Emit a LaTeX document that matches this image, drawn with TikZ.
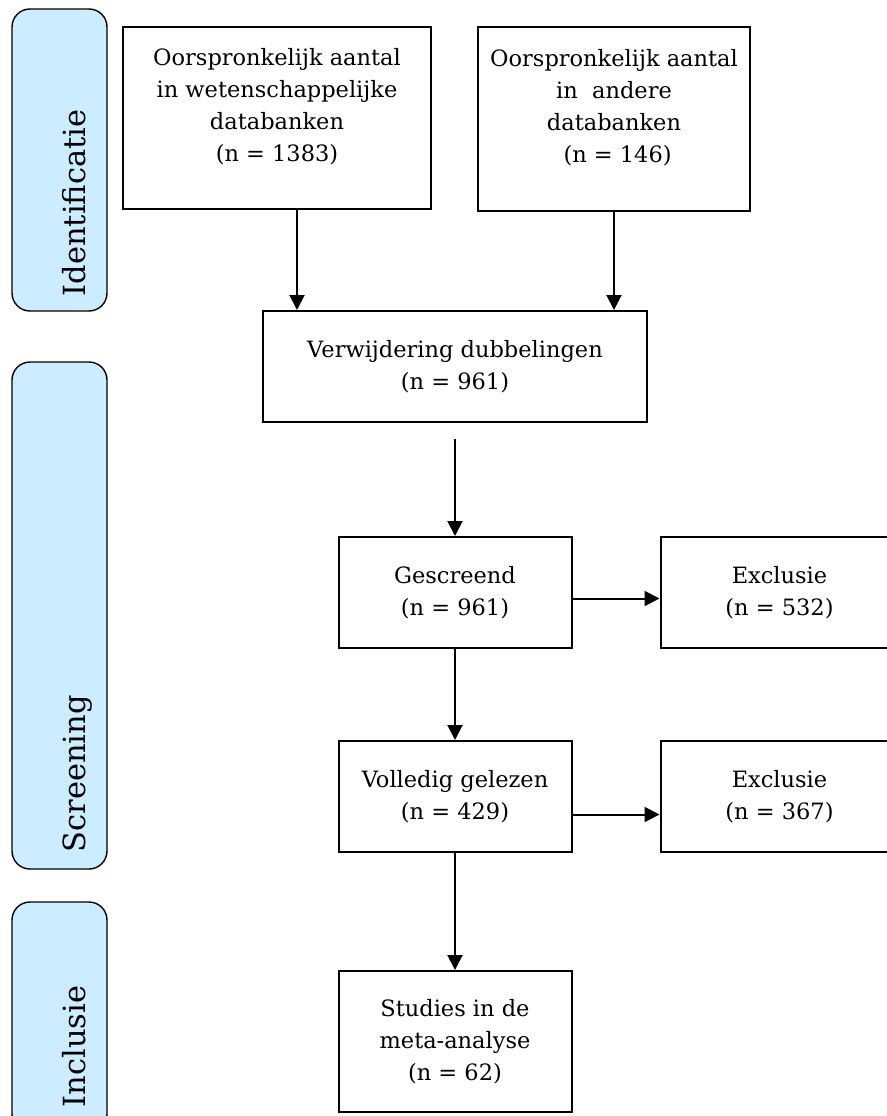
\documentclass[tikz,border=0pt]{standalone}
\usepackage{fontspec}
\setmainfont{DejaVu Serif}
\usepackage{tikz}
\usetikzlibrary{arrows.meta,positioning}
\definecolor{phaseblue}{RGB}{204,236,255}

\begin{document}
\begin{tikzpicture}[x=1pt, y=1pt, node distance=87pt and 87pt, box/.style={draw, line width=2pt, align=center, inner sep=0pt, font=\fontsize{22.5}{32}\selectfont}, phase/.style={draw, line width=1.4pt, rounded corners=18pt, fill=phaseblue, minimum width=95pt}, phaselabel/.style={rotate=90, anchor=base west, inner sep=0pt, font=\fontsize{30.5}{36}\selectfont}, arr/.style={-{Triangle[length=15pt,width=15pt]}, line width=2pt}]
\useasboundingbox (0,0) rectangle (886,-1116);
% phases on the left
\node[phase, minimum height=302pt] (ident) at (59.5,-160) {};
\node[phase, minimum height=507pt] (screen) at (59.5,-615.5) {};
\node[phase, minimum height=230pt] (incl) at (59.5,-1017) {};
\node[phaselabel] (identlbl) at ([xshift=25.5pt,yshift=15pt]ident.south) {Identificatie};
\node[phaselabel] (screenlbl) at ([xshift=25.5pt,yshift=17pt]screen.south) {Screening};
\node[phaselabel] (incllbl) at ([xshift=25.5pt,yshift=25pt]incl.south) {Inclusie};
% flow
\node[box, minimum width=308pt, minimum height=182pt] (orig1) at (277,-118) {Oorspronkelijk aantal\\in wetenschappelijke\\databanken\\(n = 1383)\\[-5pt]};
\node[box, minimum width=272pt, minimum height=184pt] (orig2) at (614,-119) {Oorspronkelijk aantal\\in~~andere\\databanken\\~(n = 146)\\[-5pt]};
\node[box, minimum width=384pt, minimum height=111pt] (dubbel) at (455,-366.5) {Verwijdering dubbelingen\\(n = 961)};
\node[box, minimum width=233pt, minimum height=111pt] (gescr) at (455,-592.5) {Gescreend\\(n = 961)};
\node[box, minimum width=238pt, minimum height=111pt, right=of gescr] (excl1) {Exclusie\\(n = 532)};
\node[box, minimum width=233pt, minimum height=111pt, below=91pt of gescr] (gelezen) {Volledig gelezen\\(n = 429)};
\node[box, minimum width=238pt, minimum height=111pt, right=of gelezen] (excl2) {Exclusie\\(n = 367)};
\node[box, minimum width=233pt, minimum height=141pt, below=117pt of gelezen] (studies) {Studies in de\\meta-analyse\\(n = 62)};
\draw[arr] ([xshift=20pt]orig1.south) -- ([xshift=20pt]orig1.south |- dubbel.north);
\draw[arr] (orig2.south) -- (orig2.south |- dubbel.north);
\draw[arr, shorten <=16pt] (dubbel.south) -- (gescr.north);
\draw[arr] ([yshift=-6pt]gescr.east) -- ([yshift=-6pt]gescr.east -| excl1.west);
\draw[arr] (gescr.south) -- (gelezen.north);
\draw[arr] ([yshift=-18pt]gelezen.east) -- ([yshift=-18pt]gelezen.east -| excl2.west);
\draw[arr] (gelezen.south) -- (studies.north);
\end{tikzpicture}
\end{document}
